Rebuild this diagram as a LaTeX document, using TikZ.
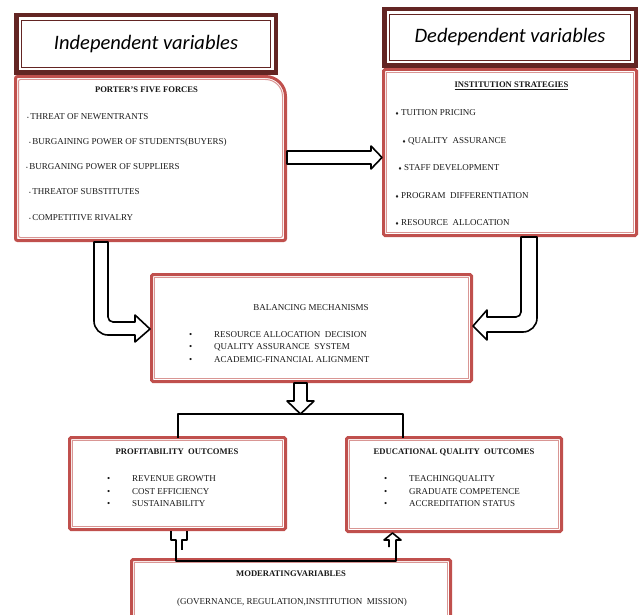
\documentclass[tikz,border=0pt]{standalone}
\usepackage{fontspec}
\setmainfont{Liberation Serif}
\newfontfamily\headfont{Carlito}
\newfontfamily\symfont{DejaVu Sans}
\usepackage{tikz}
\usetikzlibrary{calc}
\definecolor{boxred}{HTML}{C0504D}
\definecolor{boxpink}{HTML}{D99694}
\definecolor{headred}{HTML}{632523}
\newcommand{\pbul}{{\fontsize{5}{5}\selectfont\textbullet}\hspace{1.5pt}}
\newcommand{\dbul}{{\symfont\fontsize{4.5}{5}\selectfont ♦}\hspace{2pt}}
\newcommand{\tabbul}{\makebox[25pt][l]{\textbullet}}

\begin{document}
\begin{tikzpicture}[x=1pt,y=-1pt,
  headbox/.style 2 args={draw=headred,line width=4.5pt,fill=white,
                inner sep=0pt,outer sep=0pt,minimum width=#1,minimum height=#2,
                font=\headfont\itshape\fontsize{20.5}{22}\selectfont},
  redbox/.style 2 args={draw=boxred,line width=3pt,fill=white,rounded corners=1.5pt,
                inner sep=0pt,outer sep=0pt,minimum width=#1,minimum height=#2},
  innerline/.style={draw=boxpink,line width=1pt},
  headline/.style={draw=headred,line width=1.2pt},
  title/.style={font=\bfseries\fontsize{8.6}{10}\selectfont,text=black!90,inner sep=0pt},
  item/.style={font=\fontsize{9}{10}\selectfont,text=black!90,inner sep=0pt,anchor=west},
  blockarrow/.style={draw=black,line width=1.6pt,fill=white,line join=round},
  link/.style={draw=black,line width=2pt,line join=round}
]
\useasboundingbox (0,0) rectangle (640,615);

% porter box with one large rounded corner
\node[redbox={270}{164},draw=none] (por) at (150.5,158.5) {};
\draw[boxred,line width=3pt,rounded corners=2pt] (por.south west) -- (por.north west)
  [rounded corners=20pt] -- (por.north east) [rounded corners=2pt] -- (por.south east) -- cycle;
\draw[innerline,rounded corners=2pt] ($(por.south west)+(3,-3)$) -- ($(por.north west)+(3,3)$)
  [rounded corners=17pt] -- ($(por.north east)+(-3,3)$) [rounded corners=2pt] -- ($(por.south east)+(-3,-3)$) -- cycle;
\node[headbox={259.5}{57.5}] (ind) at (146,44) {Independent variables};

% other boxes
\node[redbox={253}{166}] (ins) at (510,152.5) {};
\node[headbox={251.5}{56.5}] (dep) at (510,37.5) {Dedependent variables};
\node[redbox={320}{107}] (bal) at (311.5,328) {};
\node[redbox={216}{92}] (pro) at (177.5,483.5) {};
\node[redbox={215}{94}] (edu) at (454,484.5) {};
\node[redbox={319}{71}] (mod) at (291,595) {};

\foreach \n in {ins,bal,pro,edu,mod}
  \draw[innerline] ($(\n.north west)+(3,3)$) rectangle ($(\n.south east)+(-3,-3)$);
\foreach \n in {ind,dep}
  \draw[headline] ($(\n.north west)+(5,5)$) rectangle ($(\n.south east)+(-5,-5)$);

% texts
\node[title] (portitle) at (146.5,90) {PORTER’S FIVE FORCES};
\foreach \x/\y/\t [count=\i] in {27/117/THREAT OF NEWENTRANTS,
    29/142/BURGAINING POWER OF STUDENTS(BUYERS),
    26/167/BURGANING POWER OF SUPPLIERS,
    29/192/THREATOF SUBSTITUTES,
    29/218/COMPETITIVE RIVALRY}
  \node[item] (por\i) at (\x,\y) {\pbul\t};

\node[title] (institle) at (511.5,86) {\underline{INSTITUTION STRATEGIES}};
\foreach \x/\y/\t [count=\i] in {395/113/TUITION PRICING,
    402/141/QUALITY~ ASSURANCE,
    398/168/STAFF DEVELOPMENT,
    395/196/PROGRAM~ DIFFERENTIATION,
    395/223/RESOURCE~ ALLOCATION}
  \node[item] (ins\i) at (\x,\y) {\dbul\t};

\node[item,anchor=center] (baltitle) at (311,308) {BALANCING MECHANISMS};
\foreach \t [count=\i] in {RESOURCE ALLOCATION~ DECISION,
    QUALITY ASSURANCE~ SYSTEM, ACADEMIC-FINANCIAL ALIGNMENT}
  \node[item] (bal\i) at (189,322.5+12.5*\i) {\tabbul\t};

\node[title] (protitle) at (177,452) {PROFITABILITY~ OUTCOMES};
\foreach \t [count=\i] in {REVENUE GROWTH, COST EFFICIENCY, SUSTAINABILITY}
  \node[item] (pro\i) at (107,466.5+12.5*\i) {\tabbul\t};

\node[title] (edutitle) at (454,452) {EDUCATIONAL QUALITY~ OUTCOMES};
\foreach \t [count=\i] in {TEACHINGQUALITY, GRADUATE COMPETENCE, ACCREDITATION STATUS}
  \node[item] (edu\i) at (384,466.5+12.5*\i) {\tabbul\t};

\node[title] (modtitle) at (291,574) {MODERATINGVARIABLES};
\node[item,anchor=center] (modtext) at (292,602) {(GOVERNANCE, REGULATION,INSTITUTION~ MISSION)};

% block arrows
\draw[blockarrow] ($(por.east)+(1.5,-7.5)$) coordinate (ra) -- ($(ra -| ins.west)+(-12.5,0)$)
  -- ++(0,-5) -- ($(ra -| ins.west)+(-1.5,6.5)$) -- ($(ra -| ins.west)+(-12.5,18)$)
  -- ++(0,-5) -- ($(ra)+(0,13)$) -- cycle;
\draw[blockarrow] ($(por.south west)+(78.5,1.5)$) coordinate (la) [rounded corners=14pt]
  -- ($(la |- bal.west)+(0,7)$) [sharp corners] -- ($(bal.west)+(-16.5,7)$) -- ++(0,7)
  -- ($(bal.west)+(-1.5,1)$) -- ($(bal.west)+(-16.5,-13)$) -- ++(0,7) [rounded corners=5pt]
  -- ($(la |- bal.west)+(14,-6)$) [sharp corners] -- ($(la)+(14,0)$) -- cycle;
\draw[blockarrow] ($(ins.south west)+(137.5,1.5)$) coordinate (rb) [rounded corners=5pt]
  -- ($(rb |- bal.east)+(0,-11)$) [sharp corners] -- ($(bal.east)+(15.5,-11)$) -- ++(0,-7)
  -- ($(bal.east)+(1.5,-2)$) -- ($(bal.east)+(15.5,12)$) -- ++(0,-8) [rounded corners=14pt]
  -- ($(rb |- bal.east)+(16,4)$) [sharp corners] -- ($(rb)+(16,0)$) -- cycle;
\draw[blockarrow] ($(bal.south)+(-17.5,1.5)$) -- ++(0,18) -- ++(-7,0) -- ++(13.5,13) coordinate (bt)
  -- ++(13.5,-13) -- ++(-7,0) -- ++(0,-18) -- cycle;

% bracket and moderating links
\draw[link] (pro.north) |- (bt) -| ($(edu.north west)+(56.5,0)$);
\draw[link,line width=1.6pt] ($(pro.south)+(-6.5,1.5)$) -- ++(0,9) -- ++(5,0) -- ++(0,21) coordinate (mb)
  -| ($(edu.south west)+(49.5,8.5)$) -- ++(5,0) -- ($(edu.south west)+(46,1.5)$)
  -- ++(-8.5,7) -- ++(5,0) -- ++(0,7);
\draw[link,line width=1.6pt] ($(pro.south)+(9.5,1.5)$) -- ++(0,9) -- ++(-5,0) -- ++(0,10);
\end{tikzpicture}
\end{document}
